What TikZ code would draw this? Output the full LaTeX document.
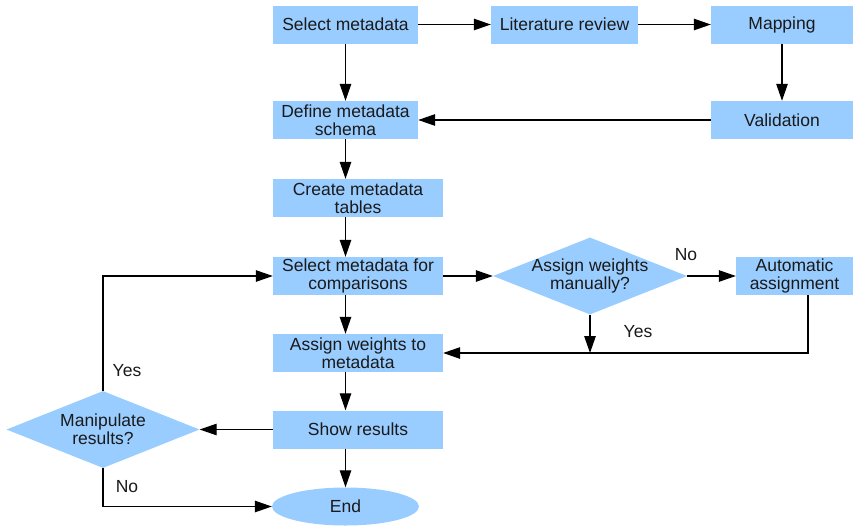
\documentclass[tikz,border=0pt]{standalone}
\usepackage{fontspec}
\setmainfont{Liberation Sans}
\usetikzlibrary{shapes.geometric,arrows.meta}
\definecolor{boxblue}{HTML}{99CCFF}
\definecolor{ink}{HTML}{1A1A1A}
\tikzset{
  every node/.style={font=\fontsize{17.5}{18}\selectfont, text=ink},
  procbox/.style={rectangle, fill=boxblue, inner sep=0pt, align=center,
                  minimum height=38pt},
  decision/.style={diamond, fill=boxblue, inner sep=0pt},
  terminal/.style={ellipse, fill=boxblue, inner sep=0pt,
                   minimum width=147pt, minimum height=38pt},
  lbl/.style={inner sep=0pt},
  flow/.style={line width=1.2pt, draw=black,
               -{Triangle[length=17pt,width=11.5pt]}},
}
\begin{document}
\begin{tikzpicture}[x=1pt,y=-1pt]
\useasboundingbox (0,0) rectangle (853,525);

% top row and feedback path
\node[procbox, minimum width=145pt] (sel) at (345.5,24.5) {Select metadata};
\node[procbox, minimum width=147pt] (lit) at (564.5,24.5) {Literature review};
\node[procbox, minimum width=142pt] (map) at (782,24.5) {Mapping};
\node[procbox, minimum width=142pt] (val) at (782,120) {Validation};
\node[procbox, minimum width=145pt] (def) at (345.5,120) {Define metadata\\schema};

% main column
\node[procbox, minimum width=170pt] (cre) at (358,198) {Create metadata\\tables};
\node[procbox, minimum width=170pt] (cmp) at (358,276) {Select metadata for\\comparisons};
\node[procbox, minimum width=170pt] (wts) at (358,353) {Assign weights to\\metadata};
\node[procbox, minimum width=170pt] (shw) at (358,429.5) {Show results};
\node[terminal] (end) at (345.5,506.5) {End};

% weighting branch
\node[decision, minimum width=194pt, minimum height=77pt] (asn) at (590,276) {};
\node[lbl, align=center] (asnt) at (asn) {Assign weights\\manually?};
\node[procbox, minimum width=117pt] (auto) at (794.5,276) {Automatic\\assignment};
\coordinate (autodrop) at ([xshift=13.5pt]auto.south);

% result loop
\node[decision, minimum width=193pt, minimum height=77pt] (man) at (103,429.5) {};
\node[lbl, align=center] (mant) at (man) {Manipulate\\results?};

% connectors
\draw[flow] (sel) -- (lit);
\draw[flow] (lit) -- (map);
\draw[flow] (map) -- (val);
\draw[flow] (val) -- (def);
\draw[flow] (sel) -- (def);
\draw[flow] (def.south) -- (def.south |- cre.north);
\draw[flow] (def.south |- cre.south) -- (def.south |- cmp.north);
\draw[flow] (def.south |- cmp.south) -- (def.south |- wts.north);
\draw[flow] (def.south |- wts.south) -- (def.south |- shw.north);
\draw[flow] (def.south |- shw.south) -- (end.north);

\draw[flow] (cmp.east) -- (asn.west);
\draw[flow] (asn.east) -- (auto.west);
\draw[flow] (asn.south) -- (asn.south |- wts.east);
\draw[flow] (autodrop) |- (wts.east);

\draw[flow] (shw.west) -- (man.east);
\draw[flow] (man.north) |- (cmp.west);
\draw[flow] (man.south) |- (end.west);

% branch labels
\node[lbl] (noA) at (686,255) {No};
\node[lbl] (yesA) at (638,332) {Yes};
\node[lbl] (yesB) at (127,371) {Yes};
\node[lbl] (noB) at (127,487) {No};
\end{tikzpicture}
\end{document}
